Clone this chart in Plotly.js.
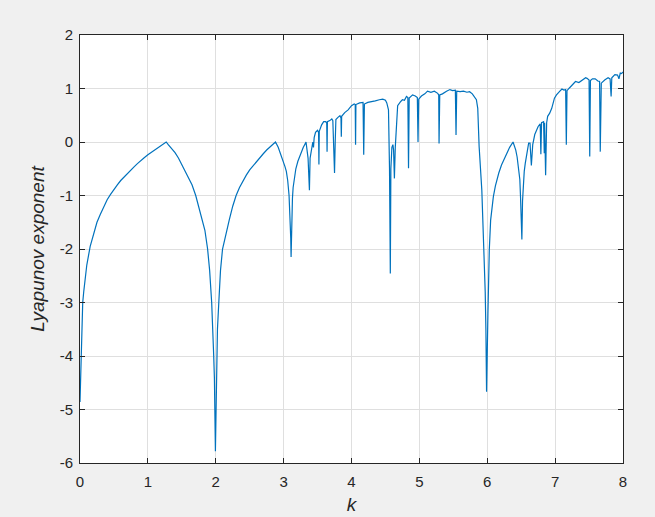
<!DOCTYPE html>
<html>
<head>
<meta charset="utf-8">
<script src="https://cdn.plot.ly/plotly-3.0.1.min.js"></script>
<style>
html,body{margin:0;padding:0;background:#f0f0f0;}
#chart{width:655px;height:517px;}
</style>
</head>
<body>
<div id="chart"></div>
<script>
// k values (x) and Lyapunov exponent values (y)
const kValues = [
0, 0.005, 0.01, 0.02, 0.03, 0.04, 0.055, 0.07, 0.1, 0.15, 0.2, 0.25, 0.3, 0.35, 0.4, 0.45, 0.5, 0.55, 0.6, 0.65, 0.7, 0.75, 0.8, 0.85, 0.9, 0.95, 1.0, 1.05, 1.1, 1.15, 1.2, 1.27,
1.3, 1.35, 1.4, 1.45, 1.5, 1.55, 1.6, 1.65, 1.705, 1.75, 1.8, 1.84, 1.88, 1.91, 1.94, 1.955, 1.97, 1.98, 1.99, 1.995,
2.005, 2.015, 2.025, 2.045, 2.07, 2.10, 2.15, 2.2, 2.25, 2.30, 2.35, 2.4, 2.45, 2.5, 2.55, 2.6, 2.65, 2.7, 2.75, 2.8, 2.84, 2.88,
2.92, 2.95, 2.98, 3.0, 3.02, 3.04, 3.06, 3.08, 3.09, 3.10, 3.105, 3.11, 3.115, 3.12, 3.13, 3.14, 3.16, 3.18, 3.21, 3.24, 3.27, 3.29, 3.31, 3.33,
3.36, 3.38, 3.39, 3.41, 3.43, 3.44, 3.45, 3.47, 3.50, 3.515, 3.52, 3.525, 3.56, 3.59, 3.62, 3.635, 3.64, 3.645,
3.68, 3.71, 3.725, 3.735, 3.75, 3.76, 3.77, 3.80, 3.83, 3.845, 3.85, 3.855, 3.90, 3.95, 4.00, 4.04, 4.055, 4.06, 4.065,
4.12, 4.17, 4.18, 4.19, 4.24, 4.29, 4.35, 4.41, 4.46, 4.50, 4.52, 4.545, 4.56, 4.572, 4.58, 4.595, 4.61, 4.62, 4.632, 4.645,
4.66, 4.68, 4.72, 4.75, 4.78, 4.81, 4.83, 4.84, 4.85, 4.90, 4.94, 4.97, 4.98, 4.99, 5.03, 5.08, 5.12, 5.17, 5.22, 5.27, 5.285, 5.29, 5.30,
5.34, 5.40, 5.45, 5.49, 5.53, 5.54, 5.55, 5.60, 5.65, 5.70, 5.74, 5.78, 5.81, 5.84, 5.86, 5.88, 5.92, 5.94, 5.96, 5.97, 5.98, 5.99,
6.01, 6.02, 6.03, 6.05, 6.07, 6.09, 6.12, 6.14, 6.17, 6.21, 6.25, 6.29, 6.33, 6.38, 6.42, 6.44, 6.46, 6.48, 6.49, 6.50, 6.51, 6.52, 6.53, 6.545, 6.56, 6.585,
6.61, 6.63, 6.65, 6.67, 6.70, 6.75, 6.78, 6.79, 6.80,
6.83, 6.84, 6.845, 6.86, 6.875, 6.89, 6.92, 6.95, 6.99, 7.02, 7.07, 7.10, 7.13, 7.155, 7.165, 7.175, 7.21, 7.25, 7.30, 7.35, 7.40, 7.45, 7.47,
7.50, 7.51, 7.52, 7.55, 7.59, 7.63, 7.655, 7.665, 7.68, 7.73, 7.78, 7.81, 7.825, 7.835, 7.88, 7.92, 7.94, 7.96, 7.98, 8.00
];
const lyapunov = [
-4.86, -4.55, -4.3, -3.85, -3.4, -3.0, -2.8, -2.6, -2.3, -1.95, -1.7, -1.5, -1.35, -1.2, -1.08, -0.98, -0.88, -0.8, -0.72, -0.65, -0.58, -0.52, -0.46, -0.4, -0.34, -0.29, -0.24, -0.195, -0.15, -0.1, -0.06, 0.0,
-0.05, -0.12, -0.2, -0.3, -0.42, -0.54, -0.66, -0.8, -1.0, -1.2, -1.45, -1.65, -2.0, -2.4, -3.0, -3.4, -4.0, -4.4, -5.0, -5.78,
-5.0, -4.0, -3.5, -3.0, -2.4, -2.0, -1.7, -1.45, -1.2, -1.0, -0.85, -0.72, -0.62, -0.52, -0.44, -0.36, -0.29, -0.22, -0.15, -0.09, -0.04, 0.0,
-0.1, -0.2, -0.3, -0.38, -0.46, -0.55, -0.72, -1.0, -1.25, -1.6, -1.8, -2.15, -1.75, -1.4, -1.05, -0.85, -0.65, -0.5, -0.36, -0.25, -0.15, -0.1, -0.05, 0.0,
-0.3, -0.9, -0.3, -0.1, 0.0, -0.1, 0.08, 0.18, 0.22, 0.18, -0.42, 0.2, 0.32, 0.38, 0.38, 0.35, -0.18, 0.38,
0.4, 0.43, 0.40, -0.3, -0.58, 0.0, 0.42, 0.46, 0.49, 0.45, 0.1, 0.48, 0.55, 0.6, 0.68, 0.71, 0.70, -0.05, 0.70,
0.73, 0.74, -0.24, 0.71, 0.74, 0.76, 0.77, 0.79, 0.8, 0.78, 0.73, 0.6, -0.5, -2.46, -0.5, -0.1, -0.05, -0.15, -0.68, -0.1,
0.23, 0.68, 0.75, 0.79, 0.78, 0.85, 0.83, -0.49, 0.82, 0.88, 0.86, 0.83, 0.0, 0.8, 0.86, 0.9, 0.95, 0.93, 0.95, 0.91, 0.88, -0.03, 0.88,
0.9, 0.95, 0.98, 0.96, 0.97, 0.13, 0.95, 0.94, 0.95, 0.93, 0.94, 0.90, 0.85, 0.79, 0.63, -0.08, -0.9, -1.64, -2.33, -2.8, -3.5, -4.67,
-3.2, -2.5, -2.02, -1.46, -1.2, -1.02, -0.82, -0.71, -0.58, -0.43, -0.31, -0.21, -0.1, 0.0, -0.15, -0.28, -0.46, -0.7, -1.02, -1.35, -1.82, -1.1, -0.8, -0.55, -0.4, -0.18,
-0.02, -0.02, -0.44, -0.05, 0.14, 0.29, 0.34, -0.23, 0.36,
0.38, -0.21, 0.36, -0.62, 0.36, 0.48, 0.54, 0.63, 0.82, 0.88, 0.95, 0.99, 0.97, 0.98, -0.05, 0.96, 1.01, 1.07, 1.13, 1.11, 1.16, 1.2, 1.19,
1.16, -0.27, 1.15, 1.18, 1.18, 1.14, 1.13, -0.18, 1.10, 1.16, 1.2, 1.18, 0.85, 1.2, 1.26, 1.25, 1.18, 1.29, 1.28, 1.31
];
const xTicks = [0, 1, 2, 3, 4, 5, 6, 7, 8];
const yTicks = [-6, -5, -4, -3, -2, -1, 0, 1, 2];

const FONT = 'Liberation Sans, Arial, sans-serif';
const axisCommon = {
  showline: true, linecolor: '#262626', linewidth: 1, mirror: 'ticks',
  ticks: 'inside', ticklen: 5, tickcolor: '#262626', tickwidth: 1,
  showgrid: true, gridcolor: '#dfdfdf', gridwidth: 1, zeroline: false,
  tickfont: {family: FONT, size: 15, color: '#262626'},
  tickmode: 'array'
};

Plotly.newPlot('chart', [{
  x: kValues, y: lyapunov, type: 'scatter', mode: 'lines',
  line: {color: '#0072BD', width: 1.2}, hoverinfo: 'none'
}], {
  width: 655, height: 517,
  paper_bgcolor: '#f0f0f0', plot_bgcolor: '#ffffff',
  margin: {l: 80, r: 32, t: 35, b: 54},
  showlegend: false,
  xaxis: Object.assign({}, axisCommon, {
    range: [0, 8], tickvals: xTicks, ticktext: xTicks.map(String),
    ticklabelstandoff: 5,
    title: {text: 'k', font: {family: FONT, size: 19, color: '#262626', style: 'italic'}, standoff: 8}
  }),
  yaxis: Object.assign({}, axisCommon, {
    range: [-6, 2], tickvals: yTicks, ticktext: yTicks.map(String),
    ticklabelstandoff: 3,
    title: {text: 'Lyapunov exponent', font: {family: FONT, size: 19, color: '#262626', style: 'italic'}, standoff: 10}
  })
}, {displayModeBar: false, staticPlot: true});
</script>
</body>
</html>
